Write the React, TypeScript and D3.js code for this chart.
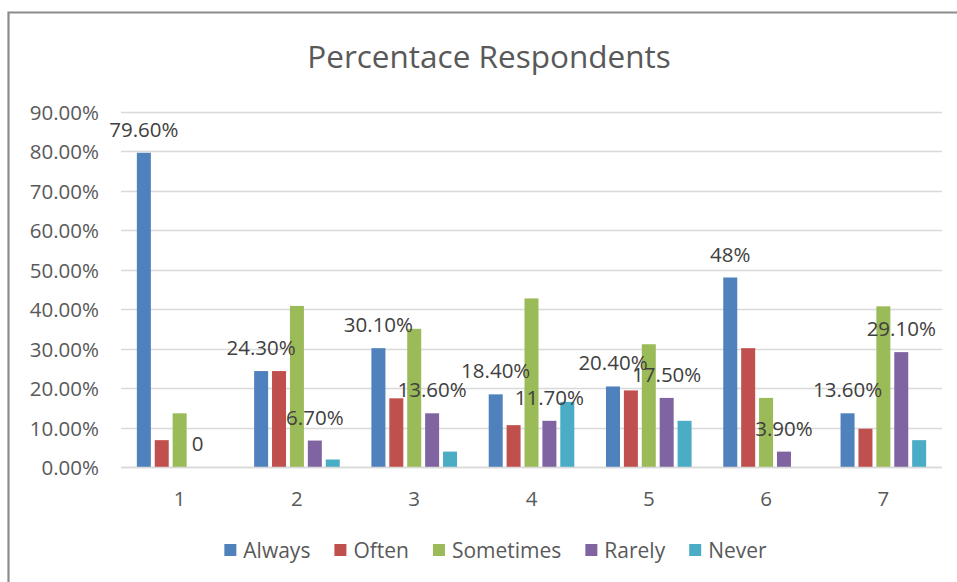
import React, { useMemo } from "react";
import * as d3 from "d3";

const categories = ["1", "2", "3", "4", "5", "6", "7"];
const seriesNames = ["Always", "Often", "Sometimes", "Rarely", "Never"];
const seriesColors = ["#4F81BD", "#C0504D", "#9BBB59", "#8064A2", "#4BACC6"];

const always = [0.796, 0.243, 0.301, 0.184, 0.204, 0.48, 0.136];
const often = [0.068, 0.243, 0.174, 0.106, 0.194, 0.301, 0.097];
const sometimes = [0.136, 0.408, 0.35, 0.427, 0.311, 0.175, 0.407];
const rarely = [0, 0.067, 0.136, 0.117, 0.175, 0.039, 0.291];
const never = [0, 0.019, 0.039, 0.165, 0.117, 0, 0.068];

const alwaysLabels = ["79.60%", "24.30%", "30.10%", "18.40%", "20.40%", "48%", "13.60%"];
const rarelyLabels = ["0", "6.70%", "13.60%", "11.70%", "17.50%", "3.90%", "29.10%"];

const yTicks = [0, 0.1, 0.2, 0.3, 0.4, 0.5, 0.6, 0.7, 0.8, 0.9];
const title = "Percentace Respondents";

const FONT = "'Open Sans', 'Liberation Sans', sans-serif";

export default function App() {
  const W = 957;
  const H = 582;
  const plotLeft = 121;
  const plotRight = 942;
  const plotTop = 111.7;
  const plotBottom = 467;

  const allSeries = [always, often, sometimes, rarely, never];

  const x = d3.scaleBand<string>().domain(categories).range([plotLeft, plotRight]).padding(0);
  const xs = d3
    .scaleBand<string>()
    .domain(seriesNames)
    .range([-42.8, 42.8])
    .paddingInner(0.218)
    .paddingOuter(0);
  const y = d3.scaleLinear().domain([0, 0.9]).range([plotBottom, plotTop]);
  const fmt = d3.format(".2%");

  const labelSize = 20.5;
  const legendFont = `21px ${FONT}`;

  const legendLayout = useMemo(() => {
    const canvas = document.createElement("canvas");
    const ctx = canvas.getContext("2d")!;
    ctx.font = legendFont;
    const sq = 12;
    const gapText = 7;
    const gapItem = 24;
    const widths = seriesNames.map((n) => ctx.measureText(n).width);
    const total =
      widths.reduce((a, b) => a + b, 0) + seriesNames.length * (sq + gapText) + (seriesNames.length - 1) * gapItem;
    let cx = 495.5 - total / 2;
    return seriesNames.map((n, i) => {
      const item = { x: cx, textX: cx + sq + gapText };
      cx += sq + gapText + widths[i] + gapItem;
      return item;
    });
  }, []);

  // center x of a bar
  const bx = (ci: number, si: number) =>
    (x(categories[ci]) as number) + x.bandwidth() / 2 + (xs(seriesNames[si]) as number) + xs.bandwidth() / 2;

  return (
    <div style={{ position: "fixed", left: 0, top: 0 }}>
      <svg width={W} height={H} style={{ display: "block", background: "#fff" }}>
        <rect x={0} y={0} width={W} height={H} fill="#fff" />
        {/* chart frame */}
        <path d={`M8.5,${H} L8.5,12.5 L${W},12.5`} fill="none" stroke="#8c8c8c" strokeWidth={2.2} />

        <text x={489} y={68} textAnchor="middle" fontFamily={FONT} fontSize={31.5} fill="#595959">
          {title}
        </text>

        {/* gridlines */}
        {yTicks.map((t) => (
          <line
            key={t}
            x1={plotLeft}
            x2={plotRight}
            y1={Math.round(y(t)) + 0.5}
            y2={Math.round(y(t)) + 0.5}
            stroke="#d9d9d9"
            strokeWidth={1.3}
          />
        ))}

        {/* y tick labels */}
        {yTicks.map((t) => (
          <text
            key={"yl" + t}
            x={99}
            y={y(t)}
            textAnchor="end"
            dominantBaseline="central"
            fontFamily={FONT}
            fontSize={labelSize}
            fill="#595959"
          >
            {fmt(t)}
          </text>
        ))}

        {/* bars */}
        {allSeries.map((vals, si) =>
          vals.map((v, ci) =>
            v > 0 ? (
              <rect
                key={`b${si}-${ci}`}
                x={bx(ci, si) - xs.bandwidth() / 2}
                y={y(v)}
                width={xs.bandwidth()}
                height={plotBottom - y(v)}
                fill={seriesColors[si]}
              />
            ) : null
          )
        )}

        {/* x axis line */}
        <line x1={plotLeft} x2={plotRight} y1={plotBottom + 0.5} y2={plotBottom + 0.5} stroke="#d9d9d9" strokeWidth={1.3} />

        {/* x tick labels */}
        {categories.map((c) => (
          <text
            key={"xl" + c}
            x={(x(c) as number) + x.bandwidth() / 2}
            y={497.5}
            textAnchor="middle"
            dominantBaseline="central"
            fontFamily={FONT}
            fontSize={labelSize}
            fill="#595959"
          >
            {c}
          </text>
        ))}

        {/* data labels */}
        {always.map((v, ci) => (
          <text
            key={"la" + ci}
            x={bx(ci, 0)}
            y={y(v) - 24}
            textAnchor="middle"
            dominantBaseline="central"
            fontFamily={FONT}
            fontSize={labelSize}
            fill="#404040"
          >
            {alwaysLabels[ci]}
          </text>
        ))}
        {rarely.map((v, ci) => (
          <text
            key={"lr" + ci}
            x={bx(ci, 3)}
            y={y(v) - 24}
            textAnchor="middle"
            dominantBaseline="central"
            fontFamily={FONT}
            fontSize={labelSize}
            fill="#404040"
          >
            {rarelyLabels[ci]}
          </text>
        ))}

        {/* legend */}
        {seriesNames.map((n, i) => (
          <g key={"lg" + n}>
            <rect x={legendLayout[i].x} y={544} width={12} height={12} fill={seriesColors[i]} />
            <text
              x={legendLayout[i].textX}
              y={550}
              dominantBaseline="central"
              fontFamily={FONT}
              fontSize={21}
              fill="#595959"
            >
              {n}
            </text>
          </g>
        ))}
      </svg>
    </div>
  );
}
